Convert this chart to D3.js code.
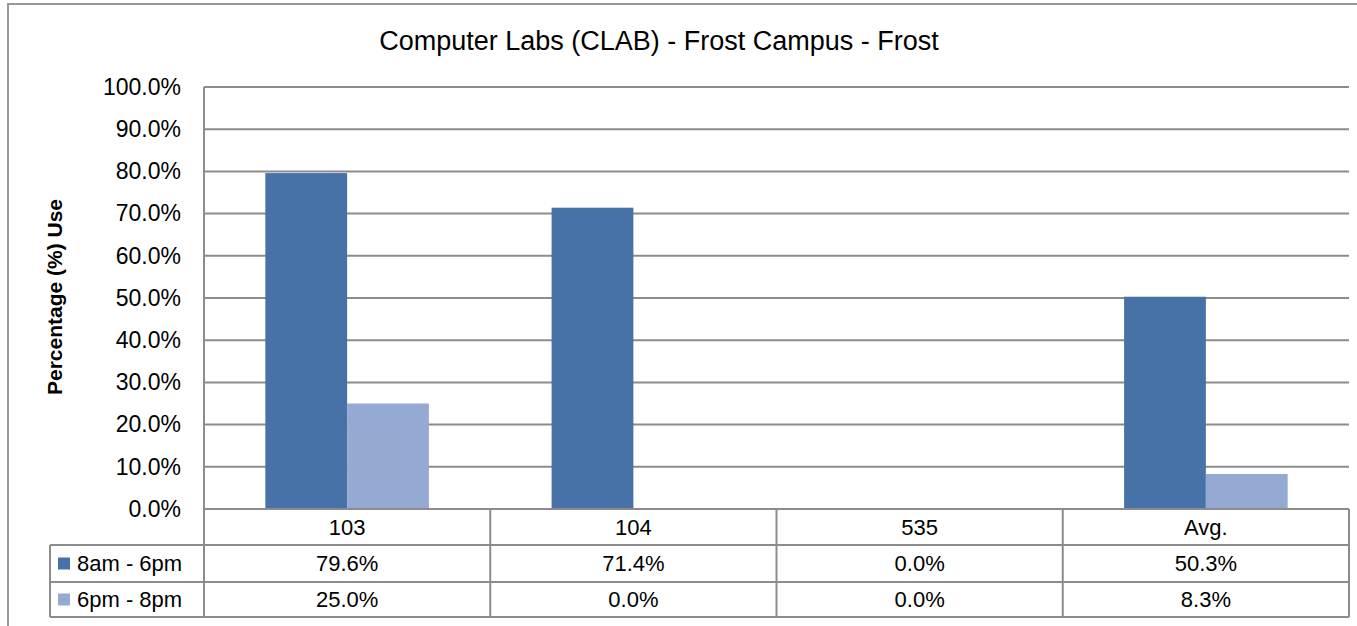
<!DOCTYPE html>
<html>
<head>
<meta charset="utf-8">
<script src="https://cdn.jsdelivr.net/npm/d3@7"></script>
<style>
  body { margin: 0; background: #fff; }
  text { font-family: "Liberation Sans", Arial, sans-serif; fill: #000; }
</style>
</head>
<body>
<svg id="chart" width="1357" height="626"></svg>
<script>
// chart data
var categories = ["103", "104", "535", "Avg."];
var seriesNames = ["8am - 6pm", "6pm - 8pm"];
var dayUse = [0.796, 0.714, 0.0, 0.503];
var eveningUse = [0.25, 0.0, 0.0, 0.083];
var yTicks = [0, 0.1, 0.2, 0.3, 0.4, 0.5, 0.6, 0.7, 0.8, 0.9, 1.0];
var colors = ["#4672a8", "#95aad2"];

var svg = d3.select("#chart"),
    width = +svg.attr("width"),
    height = +svg.attr("height");

var plotLeft = 204, plotRight = 1349, plotTop = 87, plotBottom = 509;
var rowH = [36, 37, 35];
var legendLeft = 50;
var lineColor = "#8c8c8c";

var seriesData = [dayUse, eveningUse];

// outer chart border
svg.append("rect")
    .attr("x", 8).attr("y", 4)
    .attr("width", width).attr("height", height)
    .attr("fill", "none")
    .attr("stroke", "#999")
    .attr("stroke-width", 2);

var x = d3.scaleBand().domain(categories).range([plotLeft, plotRight]);
var xs = d3.scaleBand().domain(seriesNames).range([0, x.bandwidth()]).paddingOuter(0.75);
var y = d3.scaleLinear().domain([0, 1]).range([plotBottom, plotTop]);

// gridlines
svg.append("g")
    .selectAll("line")
    .data(yTicks.slice(1))
    .enter().append("line")
    .attr("x1", plotLeft).attr("x2", plotRight)
    .attr("y1", function (d) { return y(d); })
    .attr("y2", function (d) { return y(d); })
    .attr("stroke", lineColor)
    .attr("stroke-width", 2);

// bars
seriesNames.forEach(function (s, i) {
    svg.append("g")
        .selectAll("rect")
        .data(categories)
        .enter().append("rect")
        .attr("x", function (c) { return x(c) + xs(s); })
        .attr("width", xs.bandwidth())
        .attr("y", function (c, j) { return y(seriesData[i][j]); })
        .attr("height", function (c, j) { return y(0) - y(seriesData[i][j]); })
        .attr("fill", colors[i]);
});

// y axis
var yAxis = d3.axisLeft(y)
    .tickValues(yTicks)
    .tickSize(0)
    .tickPadding(23)
    .tickFormat(d3.format(".1%"));

var gy = svg.append("g")
    .attr("transform", "translate(" + plotLeft + ",0)")
    .call(yAxis);
gy.select(".domain").remove();
gy.selectAll("text")
    .style("font-size", "23px")
    .style("font-family", "'Liberation Sans', Arial, sans-serif")
    .attr("fill", "#000");

var rowY = [plotBottom, plotBottom + rowH[0], plotBottom + rowH[0] + rowH[1], plotBottom + rowH[0] + rowH[1] + rowH[2]];

svg.append("line")
    .attr("x1", plotLeft).attr("x2", plotLeft)
    .attr("y1", plotTop).attr("y2", rowY[3])
    .attr("stroke", lineColor).attr("stroke-width", 2);

// data table
var table = svg.append("g");

table.append("line")
    .attr("x1", plotLeft).attr("x2", plotRight)
    .attr("y1", plotBottom).attr("y2", plotBottom)
    .attr("stroke", lineColor).attr("stroke-width", 2);

[rowY[1], rowY[2], rowY[3]].forEach(function (yy) {
    table.append("line")
        .attr("x1", legendLeft).attr("x2", plotRight)
        .attr("y1", yy).attr("y2", yy)
        .attr("stroke", lineColor).attr("stroke-width", 2);
});

table.append("line")
    .attr("x1", legendLeft).attr("x2", legendLeft)
    .attr("y1", rowY[1]).attr("y2", rowY[3])
    .attr("stroke", lineColor).attr("stroke-width", 2);

table.selectAll(".vline")
    .data(categories)
    .enter().append("line")
    .attr("class", "vline")
    .attr("x1", function (c) { return x(c) + x.bandwidth(); })
    .attr("x2", function (c) { return x(c) + x.bandwidth(); })
    .attr("y1", rowY[0]).attr("y2", rowY[3])
    .attr("stroke", lineColor).attr("stroke-width", 2);

// category header
table.selectAll(".cat")
    .data(categories)
    .enter().append("text")
    .attr("class", "cat")
    .attr("x", function (c) { return x(c) + x.bandwidth() / 2; })
    .attr("y", (rowY[0] + rowY[1]) / 2)
    .attr("dy", "0.36em")
    .attr("text-anchor", "middle")
    .style("font-size", "22px")
    .text(function (c) { return c; });

var pct = d3.format(".1%");
seriesNames.forEach(function (s, i) {
    var cy = (rowY[i + 1] + rowY[i + 2]) / 2;
    table.append("rect")
        .attr("x", 58).attr("y", cy - 6)
        .attr("width", 12).attr("height", 12)
        .attr("fill", colors[i]);
    table.append("text")
        .attr("x", 77).attr("y", cy)
        .attr("dy", "0.36em")
        .style("font-size", "22px")
        .text(s);
    table.append("g")
        .selectAll("text")
        .data(categories)
        .enter().append("text")
        .attr("x", function (c) { return x(c) + x.bandwidth() / 2; })
        .attr("y", cy)
        .attr("dy", "0.36em")
        .attr("text-anchor", "middle")
        .style("font-size", "22px")
        .text(function (c, j) { return pct(seriesData[i][j]); });
});

// titles
svg.append("text")
    .attr("x", 659).attr("y", 50)
    .attr("text-anchor", "middle")
    .style("font-size", "27px")
    .text("Computer Labs (CLAB) - Frost Campus - Frost");

svg.append("text")
    .attr("transform", "translate(62,297) rotate(-90)")
    .attr("text-anchor", "middle")
    .style("font-size", "21px")
    .style("font-weight", "bold")
    .text("Percentage (%) Use");
</script>
</body>
</html>
